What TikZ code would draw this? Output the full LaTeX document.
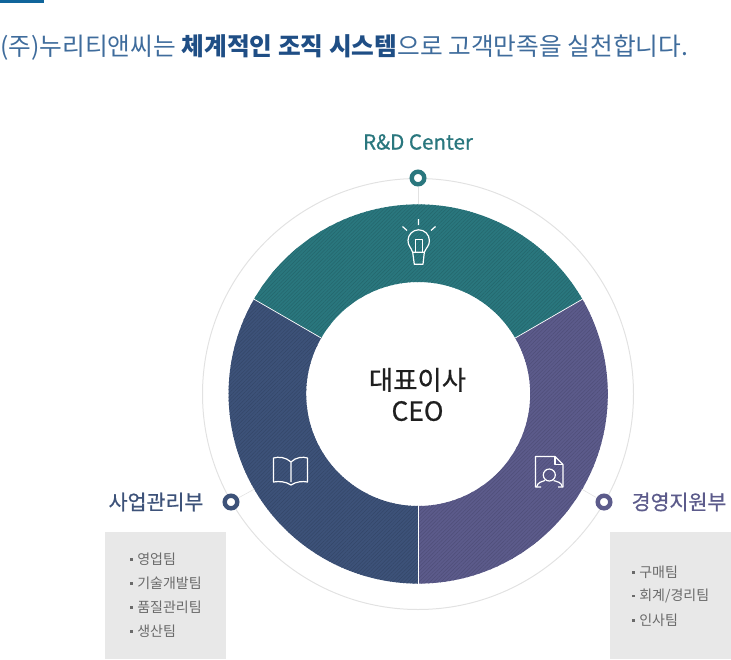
\documentclass[tikz,border=0pt]{standalone}
\usepackage{fontspec}
\setmainfont{Noto Sans CJK KR}
\newfontfamily\medkr[FakeBold=0.7]{Noto Sans CJK KR}
\usetikzlibrary{calc, patterns.meta}
\definecolor{rndteal}{HTML}{2A777E}
\definecolor{bizblue}{HTML}{3D5279}
\definecolor{suppurple}{HTML}{5C5B8B}
\definecolor{titleblue}{HTML}{3F6C9C}
\definecolor{boldblue}{HTML}{1F4E85}
\definecolor{topbar}{HTML}{10659B}
\definecolor{panelgray}{HTML}{E8E8E8}
\definecolor{ringgray}{HTML}{E2E2E2}
\definecolor{listgray}{HTML}{6A6A6A}
\newcommand{\teambullet}{\rule[3.5pt]{2.5pt}{2.5pt}\hspace{4.5pt}}
\begin{document}
\begin{tikzpicture}[
            x = 1pt, y = -1pt, % one unit is one pixel
            semithick,
            every node/.style={inner sep=0pt, align=center}
        ]

        \tikzstyle{ring dot}=[
            circle,
            draw = #1,
            line width = 4.4pt,
            fill = white,
            minimum size = 12.6pt
        ]
        \tikzstyle{sector}=[draw = white, line width = 0.7pt]
        \tikzstyle{hatch}=[pattern = {Lines[angle=45, distance=2.6pt, line width=0.5pt]}, pattern color = black!14!#1]
        \tikzstyle{icon}=[draw = white, line width = 1.2pt, line join = round]
        \tikzstyle{panel}=[fill = panelgray, anchor = north west, minimum width = 121pt, minimum height = 127pt]
        \tikzstyle{team}=[anchor = west, font = \fontsize{14}{14}\selectfont, text = listgray]
        \tikzstyle{head}=[font = \fontsize{20.6}{21}\medkr]

        \useasboundingbox (0,0) rectangle (731,659);

        % top bar and title
        \fill[topbar] (0,0) rectangle (44,3);
        \node (title) [anchor = west, text = titleblue, font = \fontsize{24.7}{25}\selectfont] at (0,47.5)
            {(주)누리티앤씨는 \textcolor{boldblue}{\bfseries 체계적인 조직 시스템}으로 고객만족을 실천합니다.};

        % thin ring
        \draw[ringgray, line width = 1pt] (418,394) circle (215.5);

        % sectors
        \foreach \from/\to/\col in {30/150/rndteal, 150/270/bizblue, 270/390/suppurple} {
            \fill[\col] ($(418.2,394)+(\from:189.6 and -189.6)$) arc[start angle=-\from, end angle=-\to, radius=189.6]
                -- ($(418.2,394)+(\to:112 and -112)$) arc[start angle=-\to, end angle=-\from, radius=112] -- cycle;
            \path[hatch=\col] ($(418.2,394)+(\from:189.6 and -189.6)$) arc[start angle=-\from, end angle=-\to, radius=189.6]
                -- ($(418.2,394)+(\to:112 and -112)$) arc[start angle=-\to, end angle=-\from, radius=112] -- cycle;
        }
        \foreach \ang in {30, 150, 270}
            \draw[sector] ($(418.2,394)+(\ang:189.6 and -189.6)$) -- ($(418.2,394)+(\ang:112 and -112)$);

        % CEO
        \node (ceo) [font = \fontsize{26.4}{31}\medkr, text = black!88] at (417.5,394.5) {대표이사\\CEO};

        % dots and connectors
        \coordinate (rndedge) at (418,204);
        \coordinate (bizedge) at (254.5,489);
        \coordinate (supedge) at (581.5,489);
        \node[ring dot=rndteal] (rnd) at (418,178) {};
        \node[ring dot=bizblue] (biz) at (231,502) {};
        \node[ring dot=suppurple] (sup) at (604,502) {};
        \draw[ringgray] (rnd) -- (rndedge);
        \draw[ringgray] (biz) -- (bizedge);
        \draw[ringgray] (sup) -- (supedge);

        % labels
        \node (rndlabel) [text = rndteal, font = \fontsize{20.6}{21}\medkr] at (418,142) {R\&D Center};
        \node (bizlabel) [head, text = bizblue] at (156,502) {사업관리부};
        \node (suplabel) [head, text = suppurple] at (679,502) {경영지원부};

        % team panels
        \node[panel] (bizpanel) at (105,532) {};
        \node[panel] (suppanel) at (610,532) {};
        \foreach \y/\name in {559/영업팀, 583/기술개발팀, 607/품질관리팀, 631/생산팀}
            \node[team] (biz\y) at (130,\y) {\teambullet\name};
        \node[team] (sup572) at (632,572) {\teambullet 구매팀};
        \node[team] (sup596) at (632,596) {\teambullet 회계/경리팀};
        \node[team] (sup620) at (632,620) {\teambullet 인사팀};

        % bulb
        \draw[icon] (418.5,219) -- (418.5,225) (402.5,226.5) -- (407,230.5) (435.5,226.5) -- (431,230.5);
        \draw[icon] (412.5,252) .. controls (411,247) and (408,246) .. (408,240.5)
            arc[start angle=180, end angle=360, radius=10.7]
            .. controls (429.4,246) and (426.5,247) .. (424.5,252);
        \draw[icon] (415.7,252) -- (415.7,239.3) -- (422.3,239.3) -- (422.3,252);
        \draw[icon] (412.7,252.3) -- (424.3,252.3) -- (423,264.3) -- (414.3,264.3) -- cycle;

        % book
        \draw[icon] (291,462) .. controls (286,457) and (278,456.5) .. (273.5,458) -- (273.5,482)
            .. controls (279,481) and (286,481.5) .. (291,485)
            .. controls (296,481.5) and (303,481) .. (307.5,482) -- (307.5,458)
            .. controls (303,456.5) and (296,457) .. (291,462) -- (291,482);

        % document and person
        \draw[icon] (541,487) -- (535.5,487) -- (535.5,456.5) -- (555,456.5) -- (563,464.5) -- (563,487) -- (558,487);
        \draw[icon] (555,456.5) -- (555,464.5) -- (563,464.5);
        \draw[icon] (549.3,475) circle (6);
        \draw[icon] (536.5,487) .. controls (538,482) and (541,482) .. (545,480.5)
            (553.5,480.5) .. controls (558,482) and (561,482) .. (562.5,487);
\end{tikzpicture}
\end{document}
